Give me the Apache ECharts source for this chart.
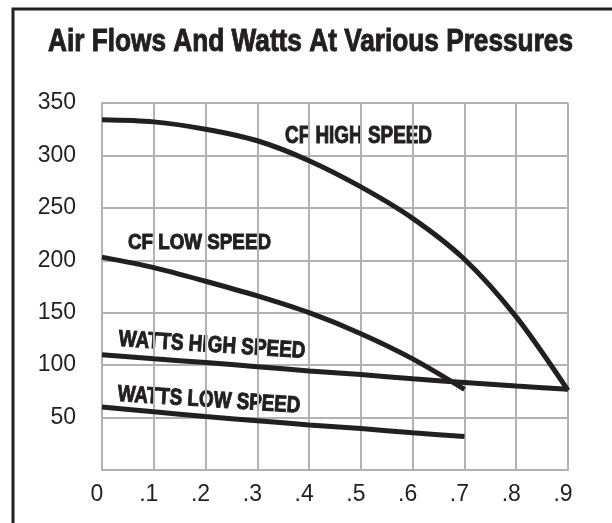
<!DOCTYPE html>
<html>
<head>
<meta charset="utf-8">
<script src="https://cdn.jsdelivr.net/npm/echarts@6/dist/echarts.min.js"></script>
<style>
html, body { margin: 0; padding: 0; background: #fff; }
#main { width: 612px; height: 523px; }
</style>
</head>
<body>
<div id="main"></div>
<script>
// pressure (x) values
var xFull = [0, 0.1, 0.2, 0.3, 0.4, 0.5, 0.6, 0.7, 0.8, 0.9];
var xShort = [0, 0.1, 0.2, 0.3, 0.4, 0.5, 0.6, 0.7];

// values
var cfHigh = [334, 332, 325, 314, 295, 270, 240, 201, 146, 76];
var cfLow = [203, 193, 180, 166, 150, 130, 106, 77];
var wattsHigh = [110, 106, 102.5, 98.5, 94.5, 91, 87, 83.5, 80, 77];
var wattsLow = [60, 55.5, 51, 47, 43, 39.5, 35.5, 32];

var yTicks = [0, 50, 100, 150, 200, 250, 300, 350];

function pairs(xs, ys) {
    var out = [];
    for (var i = 0; i < ys.length; i++) out.push([xs[i], ys[i]]);
    return out;
}

var boldFont = "'Liberation Sans', Arial, sans-serif";
var gridColor = '#b1b2b5';
var ink = '#231f20';

// squeeze plain bold text to the width it has in the picture (condensed face)
var measureCtx = document.createElement('canvas').getContext('2d');
function squeezed(text, size, width, x, baseline, angle) {
    measureCtx.font = 'bold ' + size + 'px ' + boldFont;
    var w = measureCtx.measureText(text).width;
    return {
        type: 'text',
        x: x,
        y: baseline,
        scaleX: width / w,
        rotation: (angle || 0) * Math.PI / 180,
        silent: true,
        style: {
            text: text,
            font: 'bold ' + size + 'px ' + boldFont,
            fill: ink,
            stroke: ink,
            lineWidth: 1,
            textVerticalAlign: 'bottom'
        }
    };
}

var myChart = echarts.init(document.getElementById('main'));

function curve(name, data) {
    return {
        name: name,
        type: 'line',
        data: data,
        smooth: 0.3,
        symbol: 'none',
        clip: false,
        lineStyle: { color: ink, width: 5 },
        z: 5
    };
}

var option = {
    backgroundColor: '#fff',
    animation: false,
    grid: { left: 102, top: 103, width: 466, height: 367 },
    xAxis: {
        type: 'value',
        min: 0,
        max: 0.9,
        interval: 0.1,
        axisLine: { show: true, lineStyle: { color: gridColor, width: 2 } },
        axisTick: { show: false },
        splitLine: { show: true, lineStyle: { color: gridColor, width: 2 } },
        axisLabel: {
            margin: 13,
            fontFamily: 'Liberation Sans, Arial, sans-serif',
            fontSize: 23,
            color: ink,
            padding: [0, 10, 0, 0],
            formatter: function (v) {
                var d = Math.round(v * 10);
                return d === 0 ? '0' : '.' + d;
            }
        }
    },
    yAxis: {
        type: 'value',
        min: yTicks[0],
        max: yTicks[yTicks.length - 1],
        interval: 50,
        axisLine: { show: true, lineStyle: { color: gridColor, width: 2 } },
        axisTick: { show: false },
        splitLine: { show: true, lineStyle: { color: gridColor, width: 2 } },
        axisLabel: {
            showMinLabel: false,
            margin: 26,
            fontFamily: 'Liberation Sans, Arial, sans-serif',
            fontSize: 23,
            color: ink,
            padding: [10, 0, 0, 0]
        }
    },
    graphic: [
        {
            type: 'rect',
            shape: { x: 13, y: 9, width: 800, height: 800 },
            style: { fill: null, stroke: ink, lineWidth: 3 },
            silent: true
        },
        squeezed('Air Flows And Watts At Various Pressures', 32, 525, 48, 58),
        squeezed('CF HIGH SPEED', 23, 147, 285, 148),
        squeezed('CF LOW SPEED', 22, 143, 128, 254),
        squeezed('WATTS HIGH SPEED', 23, 187, 118, 351, -3.7),
        squeezed('WATTS LOW SPEED', 23, 183, 117, 406, -3.7)
    ],
    series: [
        curve('CF HIGH SPEED', pairs(xFull, cfHigh)),
        curve('CF LOW SPEED', pairs(xShort, cfLow)),
        curve('WATTS HIGH SPEED', pairs(xFull, wattsHigh)),
        curve('WATTS LOW SPEED', pairs(xShort, wattsLow))
    ]
};

myChart.setOption(option);
</script>
</body>
</html>
